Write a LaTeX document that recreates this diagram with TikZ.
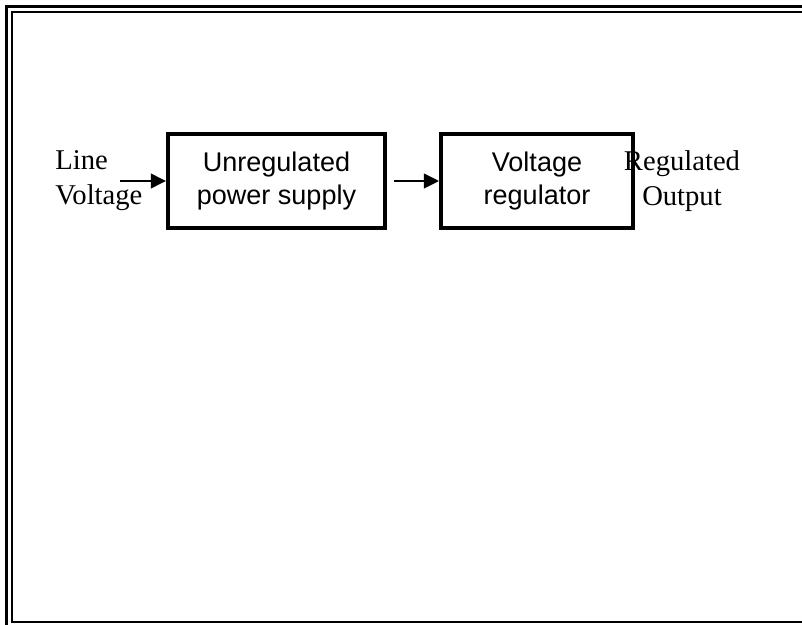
\documentclass[tikz,border=0pt]{standalone}
\usepackage{fontspec}
\setmainfont{Liberation Serif}
\setsansfont{Liberation Sans}
\usetikzlibrary{arrows.meta}

\begin{document}
\begin{tikzpicture}[x=0.4367pt,y=-0.4367pt]
\tikzset{blk/.style={draw,line width=1.75pt,minimum width=94.8pt,minimum height=41pt,
    align=center,inner sep=0pt,font=\sffamily\fontsize{11.8}{14.5}\selectfont},
  lbl/.style={inner sep=0pt,font=\fontsize{12.5}{15.2}\selectfont},
  flow/.style={line width=0.9pt,-{Triangle[length=6.6pt,width=6.4pt]}}}
\useasboundingbox (0,0) rectangle (802,625);
\clip (0,0) rectangle (802,625);

% frame
\draw[line width=1.4pt] (6.5,6.5) rectangle (830,650);
\draw[line width=1.1pt] (12,12) rectangle (825,622);

% blocks
\node[blk] (unreg) at (276.5,181) {Unregulated\\power supply};
\node[blk,minimum width=83.8pt] (volt) at (537,181) {Voltage\\regulator};

% labels
\node[lbl,anchor=west,align=left] (linev) at (55,181) {Line\\Voltage};
\node[lbl,align=center] (regout) at (682,181) {Regulated\\Output};

\coordinate (src) at (120,181);
\draw[flow] (src) -- (unreg);
\draw[flow,shorten <=3pt] (unreg) -- (volt);

\end{tikzpicture}
\end{document}
